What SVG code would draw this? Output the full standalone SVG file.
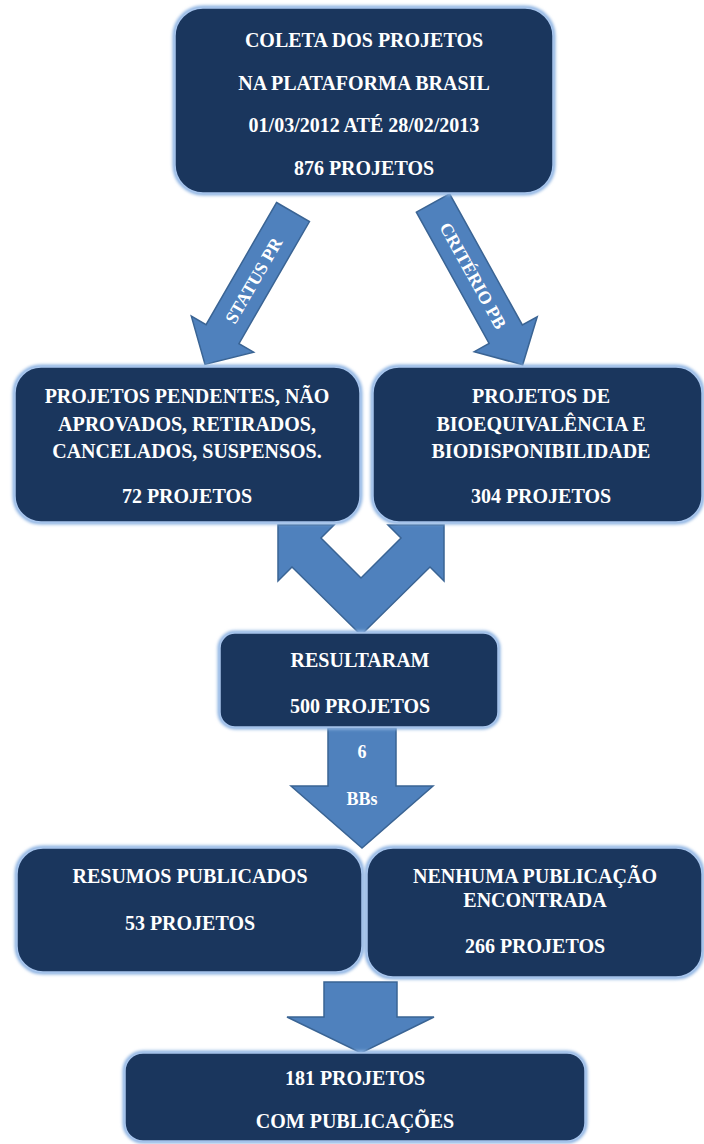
<svg xmlns="http://www.w3.org/2000/svg" width="704" height="1144" viewBox="0 0 704 1144">
<style>
.box{fill:#1a365d;stroke:#a8c5ec;stroke-width:1.5}
.glow{fill:none;stroke:#8db3e2;stroke-width:5}
.t{font-family:"Liberation Serif","Times New Roman",serif;font-weight:bold;font-size:20px;fill:#ffffff;text-anchor:middle}
.at{font-family:"Liberation Serif","Times New Roman",serif;font-weight:bold;font-size:18px;fill:#ffffff;text-anchor:middle}
.arrow{fill:#4f81bd;stroke:#3a6494;stroke-width:1.5;stroke-linejoin:miter}
</style>
<defs>
<filter id="blur" x="-10%" y="-10%" width="120%" height="120%"><feGaussianBlur stdDeviation="1.6"/></filter>
</defs>
<rect width="704" height="1144" fill="#ffffff"/>
<g id="connectors">
<g id="arrow-status" transform="translate(293,212) rotate(30)">
<polygon class="arrow" points="-19,0 19,0 19,141 36,141 0,176 -36,141 -19,141"/>
<text class="at" transform="translate(0,79) rotate(-90)" dy="0.35em" font-size="19">STATUS PR</text>
</g>
<g id="arrow-criterio" transform="translate(433,203) rotate(-29)">
<polygon class="arrow" points="-19,0 19,0 19,150 36,150 0,185 -36,150 -19,150"/>
<text class="at" transform="translate(0,83) rotate(90)" dy="0.35em" font-size="19">CRITÉRIO PB</text>
</g>
<g id="arrow-merge">
<polygon class="arrow" points="278,525 334,525 321,538 361,578 401,538 388,525 444,525 444,581 430,567 361,635 292,567 278,581"/>
</g>
<g id="arrow-bbs">
<polygon class="arrow" points="328,728 396,728 396,786 433,786 362,848 291,786 328,786"/>
<text class="at" x="362" y="758">6</text>
<text class="at" x="362" y="805">BBs</text>
</g>
<g id="arrow-final">
<polygon class="arrow" points="324,982 397,982 397,1017 434,1017 361,1053 287,1017 324,1017"/>
</g>
</g>
<g id="node-coleta">
<rect class="glow" x="175" y="8" width="378" height="185" rx="28" filter="url(#blur)"/>
<rect class="box" x="175" y="8" width="378" height="185" rx="28"/>
<text class="t" x="364" y="47">COLETA DOS PROJETOS</text>
<text class="t" x="364" y="90">NA PLATAFORMA BRASIL</text>
<text class="t" x="364" y="132">01/03/2012 ATÉ 28/02/2013</text>
<text class="t" x="364" y="175">876 PROJETOS</text>
</g>
<g id="node-pendentes">
<rect class="glow" x="15" y="367" width="345" height="155" rx="26" filter="url(#blur)"/>
<rect class="box" x="15" y="367" width="345" height="155" rx="26"/>
<text class="t" x="187" y="403">PROJETOS PENDENTES, NÃO</text>
<text class="t" x="187" y="431">APROVADOS, RETIRADOS,</text>
<text class="t" x="187" y="458">CANCELADOS, SUSPENSOS.</text>
<text class="t" x="187" y="503">72 PROJETOS</text>
</g>
<g id="node-bioequivalencia">
<rect class="glow" x="373" y="367" width="329" height="155" rx="26" filter="url(#blur)"/>
<rect class="box" x="373" y="367" width="329" height="155" rx="26"/>
<text class="t" x="541" y="403">PROJETOS DE</text>
<text class="t" x="541" y="431">BIOEQUIVALÊNCIA E</text>
<text class="t" x="541" y="458">BIODISPONIBILIDADE</text>
<text class="t" x="541" y="503">304 PROJETOS</text>
</g>
<g id="node-resultaram">
<rect class="glow" x="220" y="633" width="278" height="94" rx="15" filter="url(#blur)"/>
<rect class="box" x="220" y="633" width="278" height="94" rx="15"/>
<text class="t" x="360" y="667">RESULTARAM</text>
<text class="t" x="360" y="713">500 PROJETOS</text>
</g>
<g id="node-resumos">
<rect class="glow" x="17" y="848" width="345" height="124" rx="26" filter="url(#blur)"/>
<rect class="box" x="17" y="848" width="345" height="124" rx="26"/>
<text class="t" x="190" y="883">RESUMOS PUBLICADOS</text>
<text class="t" x="190" y="930">53 PROJETOS</text>
</g>
<g id="node-nenhuma">
<rect class="glow" x="367" y="848" width="335" height="129" rx="26" filter="url(#blur)"/>
<rect class="box" x="367" y="848" width="335" height="129" rx="26"/>
<text class="t" x="535" y="883">NENHUMA PUBLICAÇÃO</text>
<text class="t" x="535" y="907">ENCONTRADA</text>
<text class="t" x="535" y="953">266 PROJETOS</text>
</g>
<g id="node-final">
<rect class="glow" x="125" y="1053" width="460" height="88" rx="18" filter="url(#blur)"/>
<rect class="box" x="125" y="1053" width="460" height="88" rx="18"/>
<text class="t" x="355" y="1085">181 PROJETOS</text>
<text class="t" x="355" y="1128">COM PUBLICAÇÕES</text>
</g>
</svg>
